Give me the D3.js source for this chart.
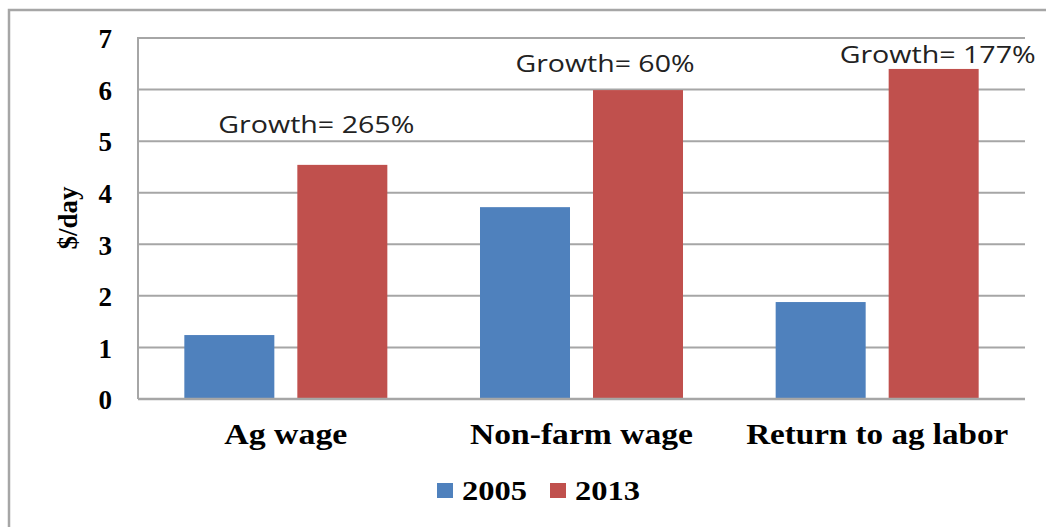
<!DOCTYPE html>
<html><head><meta charset="utf-8">
<script src="https://cdn.jsdelivr.net/npm/d3@7"></script>
<style>html,body{margin:0;padding:0;background:#fff;}svg{display:block;}</style>
</head><body>
<svg id="c" width="1046" height="527"></svg>
<script>
const categories = ["Ag wage", "Non-farm wage", "Return to ag labor"];
const seriesNames = ["2005", "2013"];
const values2005 = [1.24, 3.72, 1.88];
const values2013 = [4.54, 5.99, 6.40];
const growthLabels = ["Growth= 265%", "Growth= 60%", "Growth= 177%"];
const yTicks = [0, 1, 2, 3, 4, 5, 6, 7];
const yTitle = "$/day";

const colors = ["#4F81BD", "#C0504D"];
const svg = d3.select("#c");
const L = 138, R = 1025, T = 38, B = 399;

// outer frame
svg.append("rect").attr("x", 9).attr("y", 10).attr("width", 1060).attr("height", 540)
  .attr("fill", "none").attr("stroke", "#a6a6a6").attr("stroke-width", 2.5);

const x = d3.scaleBand().domain(categories).range([L, R]).padding(0);
const xs = d3.scaleBand().domain(seriesNames).range([0, x.bandwidth()])
  .paddingInner(0.2035).paddingOuter(0.41);
const y = d3.scaleLinear().domain([0, 7]).range([B, T]);

// gridlines
svg.append("g").selectAll("line").data(yTicks.filter(d => d > 0)).join("line")
  .attr("x1", L).attr("x2", R).attr("y1", d => y(d)).attr("y2", d => y(d))
  .attr("stroke", "#a6a6a6").attr("stroke-width", 2);
// left axis line
svg.append("line").attr("x1", L).attr("x2", L).attr("y1", T - 1).attr("y2", B)
  .attr("stroke", "#a6a6a6").attr("stroke-width", 2);

// y tick labels via axis
const yAxis = svg.append("g").attr("transform", `translate(${L},0)`)
  .call(d3.axisLeft(y).tickValues(yTicks).tickFormat(d3.format("d")).tickSize(0).tickPadding(26));
yAxis.select(".domain").remove();
yAxis.selectAll("text").attr("font-family", "'Liberation Serif', serif")
  .attr("font-weight", "bold").attr("font-size", 27).attr("fill", "#000")
  .attr("dy", "0.36em");

// y title
svg.append("text").attr("transform", "translate(77,218) rotate(-90)")
  .attr("text-anchor", "middle").attr("font-family", "'Liberation Serif', serif")
  .attr("font-weight", "bold").attr("font-size", 27).attr("fill", "#000")
  .text(yTitle);

// bars
const seriesData = [values2005, values2013];
seriesData.forEach((vals, si) => {
  svg.append("g").selectAll("rect").data(vals).join("rect")
    .attr("x", (d, i) => x(categories[i]) + xs(seriesNames[si]))
    .attr("width", xs.bandwidth())
    .attr("y", d => y(d)).attr("height", d => y(0) - y(d))
    .attr("fill", colors[si]);
});

// bottom axis line
svg.append("line").attr("x1", L).attr("x2", R).attr("y1", B).attr("y2", B)
  .attr("stroke", "#a6a6a6").attr("stroke-width", 2.5);

// category labels
const catW = [123, 223, 262];
svg.append("g").selectAll("text").data(categories).join("text")
  .attr("x", d => x(d) + x.bandwidth() / 2).attr("y", 444)
  .attr("text-anchor", "middle").attr("font-family", "'Liberation Serif', serif")
  .attr("font-weight", "bold").attr("font-size", 29).attr("fill", "#000")
  .attr("textLength", (d, i) => catW[i]).attr("lengthAdjust", "spacingAndGlyphs")
  .text(d => d);

// growth annotations
const annOff = [-26, -33, 4], annY = [133, 72, 63], annW = [196, 179, 196];
svg.append("g").selectAll("text").data(growthLabels).join("text")
  .attr("x", (d, i) => x(categories[i]) + xs(seriesNames[1]) + xs.bandwidth() / 2 + annOff[i])
  .attr("y", (d, i) => annY[i])
  .attr("text-anchor", "middle").attr("font-family", "'Open Sans', sans-serif")
  .attr("font-size", 23).attr("fill", "#222")
  .attr("textLength", (d, i) => annW[i]).attr("lengthAdjust", "spacingAndGlyphs")
  .text(d => d);

// legend
const legX = [437, 550];
const lg = svg.append("g");
seriesNames.forEach((s, i) => {
  lg.append("rect").attr("x", legX[i]).attr("y", 483).attr("width", 16).attr("height", 15)
    .attr("fill", colors[i]);
  lg.append("text").attr("x", legX[i] + 25).attr("y", 500)
    .attr("font-family", "'Liberation Serif', serif").attr("font-weight", "bold")
    .attr("font-size", 28).attr("fill", "#000")
    .attr("textLength", 65).attr("lengthAdjust", "spacingAndGlyphs")
    .text(s);
});
</script>
</body></html>
